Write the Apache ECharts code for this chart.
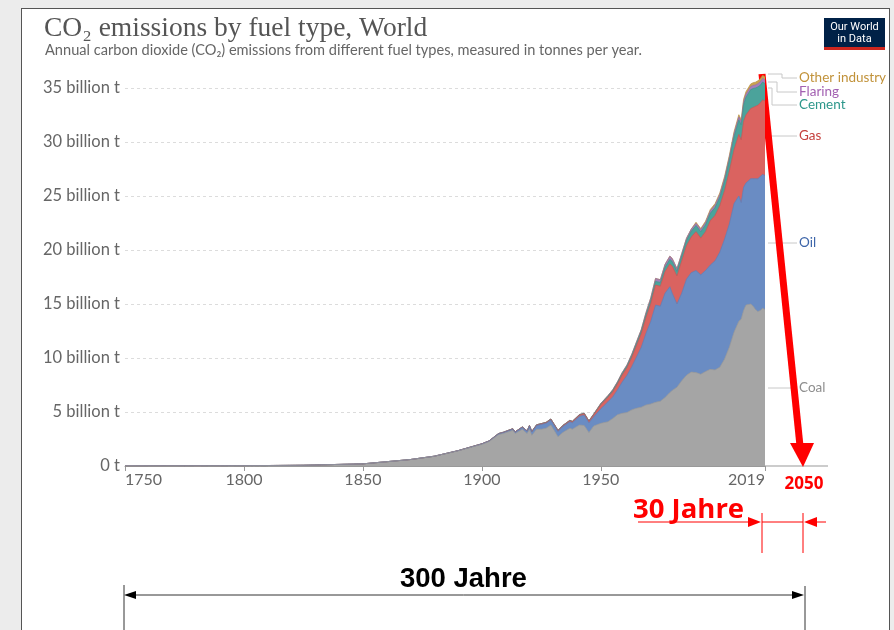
<!DOCTYPE html>
<html><head><meta charset="utf-8">
<script src="https://cdn.jsdelivr.net/npm/echarts@6/dist/echarts.min.js"></script>
<style>
html,body{margin:0;padding:0;background:#ececec;width:894px;height:630px;overflow:hidden;}
#panel{position:absolute;left:21px;top:8px;width:869px;height:640px;background:#fff;border:1px solid #555;box-sizing:border-box;}
#chart{position:absolute;left:0;top:0;width:894px;height:630px;}
</style></head><body>
<div id="panel"></div><div id="chart"></div>
<script>
// ---- data (billion tonnes CO2 per year) ----
const years = [1750,1775,1800,1825,1850, 1860,1870,1880,1890,1900, 1903,1907,1909,1913,1914, 1917,1919,1920,1921,1923,
  1925,1927,1929,1932,1934, 1937,1938,1941,1943,1945, 1947,1950,1953,1955,1957, 1959,1961,1963,1965,1967,
  1969,1971,1973,1975,1977, 1979,1980,1982,1984,1986, 1988,1990,1992,1994,1996, 1998,2000,2002,2004,2006,
  2008,2009,2010,2011,2012, 2013,2014,2015,2016,2017, 2018,2019];
const coal = [0.009,0.015,0.028,0.07,0.2, 0.4,0.6,0.9,1.4,2.0, 2.25,2.9,3.0,3.3,3.0, 3.4,3.0,3.4,2.85,3.4,
  3.4,3.5,3.8,2.7,3.1, 3.5,3.4,3.8,3.75,3.1, 3.7,3.95,4.1,4.4,4.75, 4.88,4.95,5.2,5.35,5.45,
  5.65,5.75,5.9,6.0,6.35, 6.8,7.0,7.3,7.9,8.4, 8.7,8.65,8.5,8.75,8.95, 8.9,9.15,9.9,11.0,12.4,
  13.4,13.6,14.4,14.9,14.95, 15.0,14.8,14.5,14.3,14.4, 14.6,14.5];
const oil = [0,0,0,0,0, 0,0.001,0.01,0.02,0.05, 0.06,0.08,0.1,0.12,0.13, 0.18,0.22,0.3,0.3,0.35,
  0.45,0.45,0.45,0.5,0.55, 0.6,0.6,0.8,0.95,0.9, 0.85,1.35,1.85,2.0,2.3, 2.9,3.45,4.0,4.75,5.55,
  6.65,7.65,9.0,8.8,9.65, 9.8,9.0,7.7,8.1,8.9, 9.2,9.45,9.2,9.35,9.65, 10.1,10.65,11.1,11.4,11.9,
  11.6,10.8,11.4,11.3,11.45, 11.6,11.8,12.1,12.3,12.4, 12.4,12.4];
const gas = [0,0,0,0,0, 0,0,0,0.005,0.01, 0.01,0.02,0.02,0.03,0.03, 0.03,0.03,0.04,0.04,0.05,
  0.06,0.07,0.08,0.08,0.08, 0.1,0.1,0.12,0.15,0.15, 0.2,0.38,0.42,0.48,0.55, 0.65,0.7,0.85,1.05,1.25,
  1.45,1.65,1.85,1.85,2.0, 2.1,2.5,2.6,3.0,3.1, 3.3,3.6,3.4,3.6,4.1, 4.2,4.3,4.5,4.9,5.0,
  5.7,5.8,6.1,6.3,6.4, 6.5,6.6,6.7,6.8,6.8, 6.9,6.9];
const cement = [0,0,0,0,0, 0,0,0,0,0, 0.005,0.01,0.01,0.01,0.01, 0.01,0.01,0.015,0.015,0.02,
  0.02,0.025,0.025,0.02,0.025, 0.03,0.03,0.035,0.03,0.025, 0.04,0.07,0.09,0.11,0.12, 0.14,0.16,0.18,0.21,0.23,
  0.27,0.3,0.34,0.35,0.4, 0.43,0.44,0.44,0.46,0.49, 0.54,0.57,0.59,0.64,0.7, 0.73,0.78,0.88,1.0,1.2,
  1.35,1.4,1.55,1.65,1.7, 1.75,1.75,1.7,1.7,1.65, 1.65,1.6];
const flaring = [0,0,0,0,0, 0,0,0,0,0, 0,0,0,0,0, 0,0,0,0,0,
  0,0,0,0,0, 0.005,0.005,0.01,0.01,0.01, 0.02,0.05,0.06,0.07,0.08, 0.09,0.1,0.12,0.14,0.16,
  0.2,0.24,0.28,0.25,0.28, 0.3,0.28,0.24,0.22,0.2, 0.2,0.2,0.2,0.2,0.22, 0.22,0.25,0.26,0.27,0.28,
  0.28,0.27,0.28,0.28,0.28, 0.28,0.28,0.28,0.3,0.32, 0.34,0.35];
const otherIndustry = [0,0,0,0,0, 0,0,0,0,0, 0,0,0,0,0, 0,0,0,0,0,
  0,0,0,0,0, 0,0,0,0,0, 0,0,0,0,0, 0,0,0,0,0,
  0,0,0,0,0, 0,0,0,0,0, 0,0.1,0.1,0.12,0.13, 0.14,0.15,0.16,0.17,0.18,
  0.2,0.2,0.22,0.23,0.24, 0.25,0.26,0.26,0.27,0.28, 0.29,0.3];
const seriesNames = ['Coal','Oil','Gas','Cement','Flaring','Other industry'];
const xTickYears = [1750,1800,1850,1900,1950,2019];
const yTicks = [0,5,10,15,20,25,30,35];

// ---- styling ----
const fills = ['#a5a5a5','#6a8cc3','#da6360','#4ba39b','#a47fbc','#c9a24e'];
const edges = ['#999999','#5f80b8','#cc5654','#40958d','#9670af','#b98f3c'];
const labelColors = ['#8e8e8e','#3d65a9','#c5413e','#2d978b','#a361b2','#c1923a'];

const chart = echarts.init(document.getElementById('chart'), null, {renderer:'canvas'});
const valueLists = [coal, oil, gas, cement, flaring, otherIndustry];
// cumulative stacking (bottom: coal ... top: other industry)
const cumulative = valueLists.map((_, i) => years.map((y, j) => {
  let s = 0; for (let k = 0; k <= i; k++) s += valueLists[k][j]; return +s.toFixed(4);
}));
const series = [];
for (let i = seriesNames.length - 1; i >= 0; i--) {
  series.push({
    name: seriesNames[i], type: 'line', symbol: 'none', smooth: false,
    data: years.map((y, j) => [y, cumulative[i][j]]),
    lineStyle: {width: 0.7, color: edges[i]},
    areaStyle: {color: fills[i], opacity: 1, origin: 'start'},
    itemStyle: {color: fills[i]},
    emphasis: {disabled: true}
  });
}

const red = '#ff0000';
const gray = '#c8c8c8';
const legendY = {'Other industry': 78, 'Flaring': 92, 'Cement': 105, 'Gas': 136, 'Oil': 243, 'Coal': 388};
const connectors = [
  [[768,74],[782,74],[782,78],[797,78]],
  [[768,82],[777,82],[777,92],[797,92]],
  [[768,88],[772,88],[772,105],[797,105]],
  [[768,136],[797,136]],
  [[768,243],[797,243]],
  [[768,388],[797,388]]
];
const graphics = [];
// title, subtitle
graphics.push({type:'text', x:44, y:29, style:{text:'CO₂ emissions by fuel type, World', font:'27.5px "Liberation Serif"', fill:'#555', textVerticalAlign:'middle'}});
graphics.push({type:'text', x:45, y:50, style:{text:'Annual carbon dioxide (CO₂) emissions from different fuel types, measured in tonnes per year.', font:'14.6px Lato', fill:'#666', textVerticalAlign:'middle'}});
// logo
graphics.push({type:'rect', shape:{x:824, y:18, width:61, height:32}, style:{fill:'#002147'}});
graphics.push({type:'rect', shape:{x:824, y:47, width:61, height:3}, style:{fill:'#ce261e'}});
graphics.push({type:'text', x:854.5, y:27, style:{text:'Our World', font:'11px Roboto', fill:'#fff', textAlign:'center', textVerticalAlign:'middle'}});
graphics.push({type:'text', x:854.5, y:39, style:{text:'in Data', font:'11px Roboto', fill:'#fff', textAlign:'center', textVerticalAlign:'middle'}});
// legend labels
const order = ['Other industry','Flaring','Cement','Gas','Oil','Coal'];
order.forEach((n, k) => {
  const i = seriesNames.indexOf(n);
  graphics.push({type:'polyline', shape:{points: connectors[k]}, style:{stroke: gray, lineWidth:1, fill:null}});
  graphics.push({type:'text', x:799, y:legendY[n], style:{text:n, font:'13.5px Lato', fill:labelColors[i], textVerticalAlign:'middle'}});
});
// axis extension
graphics.push({type:'line', shape:{x1:765, y1:466, x2:828, y2:466}, style:{stroke:'#999', lineWidth:1}});
// big red arrow
graphics.push({type:'line', shape:{x1:762, y1:74, x2:800, y2:446}, style:{stroke:red, lineWidth:7}});
graphics.push({type:'polygon', shape:{points:[[790,443],[814,443],[803,467]]}, style:{fill:red}});
graphics.push({type:'text', x:804, y:484, style:{text:'2050', font:'bold 17px "Open Sans"', fill:red, textAlign:'center', textVerticalAlign:'middle'}});
// 30 Jahre
graphics.push({type:'text', x:633, y:510, style:{text:'30 Jahre', font:'bold 27.5px "Open Sans"', fill:red, textVerticalAlign:'middle'}});
graphics.push({type:'line', shape:{x1:638, y1:522, x2:750, y2:522}, style:{stroke:red, lineWidth:1}});
graphics.push({type:'polygon', shape:{points:[[748,517],[761,522],[748,527]]}, style:{fill:red}});
graphics.push({type:'line', shape:{x1:762, y1:513, x2:762, y2:553}, style:{stroke:red, lineWidth:1}});
graphics.push({type:'line', shape:{x1:803, y1:513, x2:803, y2:553}, style:{stroke:red, lineWidth:1}});
graphics.push({type:'line', shape:{x1:762, y1:522, x2:803, y2:522}, style:{stroke:red, lineWidth:1}});
graphics.push({type:'polygon', shape:{points:[[804,522],[817,517],[817,527]]}, style:{fill:red}});
graphics.push({type:'line', shape:{x1:817, y1:522, x2:826, y2:522}, style:{stroke:red, lineWidth:1}});
// 300 Jahre
graphics.push({type:'text', x:400, y:593, style:{text:'300 Jahre', font:'bold 27.5px "Liberation Sans"', fill:'#000', textVerticalAlign:'bottom'}});
graphics.push({type:'line', shape:{x1:132, y1:595, x2:795, y2:595}, style:{stroke:'#333', lineWidth:1}});
graphics.push({type:'polygon', shape:{points:[[124,595],[136,591],[136,599]]}, style:{fill:'#000'}});
graphics.push({type:'polygon', shape:{points:[[804,595],[792,591],[792,599]]}, style:{fill:'#000'}});
graphics.push({type:'line', shape:{x1:124, y1:585, x2:124, y2:630}, style:{stroke:'#333', lineWidth:1}});
graphics.push({type:'line', shape:{x1:805, y1:586, x2:805, y2:630}, style:{stroke:'#333', lineWidth:1}});

chart.setOption({
  animation: false,
  backgroundColor: 'transparent',
  grid: {left: 125, right: 129, top: 66.4, bottom: 164, containLabel: false},
  xAxis: {
    type: 'value', min: 1750, max: 2019,
    axisLine: {show: true, lineStyle: {color: '#999'}},
    axisTick: {show: true, customValues: xTickYears, length: 5, lineStyle: {color: '#999'}},
    axisLabel: {customValues: xTickYears, color: '#666', fontFamily: 'Lato', fontSize: 16, margin: 6,
      formatter: v => String(v), alignMinLabel: 'left', alignMaxLabel: 'right'},
    splitLine: {show: false}
  },
  yAxis: {
    type: 'value', min: 0, max: 37, interval: 5,
    axisLine: {show: false}, axisTick: {show: false},
    axisLabel: {customValues: yTicks, color: '#666', fontFamily: 'Lato', fontSize: 16.5, margin: 5,
      formatter: v => v === 0 ? '0 t' : v + ' billion t'},
    splitLine: {show: true, showMaxLine: false, showMinLine: false, lineStyle: {color: '#dcdcdc', type: [3, 3], width: 1}}
  },
  series: series,
  graphic: graphics
});
</script>
</body></html>
